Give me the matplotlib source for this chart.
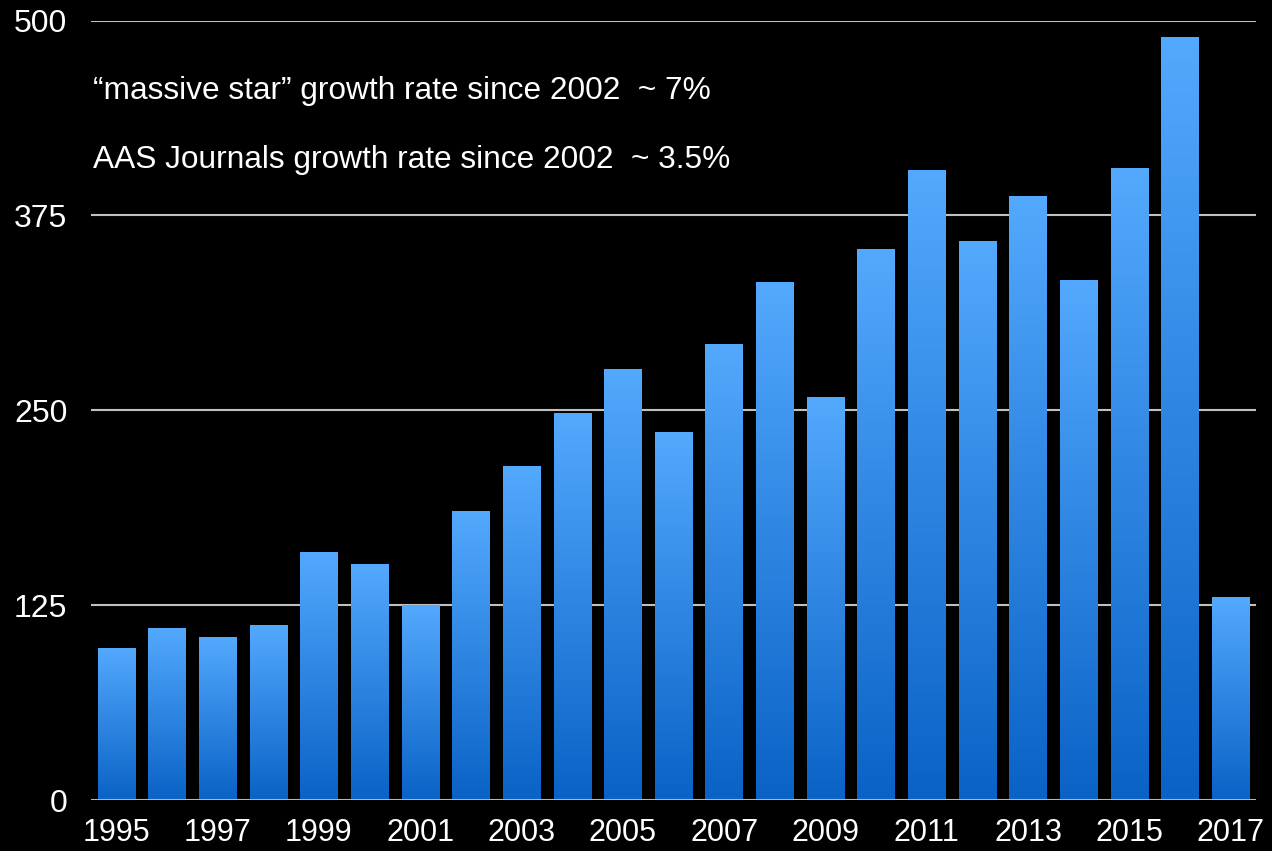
import numpy as np
import matplotlib.pyplot as plt
from matplotlib.colors import LinearSegmentedColormap

years = list(range(1995, 2018))
papers = [97, 110, 104, 112, 159, 151, 125, 185, 214, 248, 276, 236,
          292, 332, 258, 353, 404, 358, 387, 333, 405, 489, 130]
yticks = [0, 125, 250, 375, 500]
xlabels = [str(y) if (y - 1995) % 2 == 0 else "" for y in years]
notes = ["\u201cmassive star\u201d growth rate since 2002  ~ 7%",
         "AAS Journals growth rate since 2002  ~ 3.5%"]

plt.rcParams['font.family'] = ['Liberation Sans', 'DejaVu Sans']

fig = plt.figure(figsize=(12.72, 8.51), dpi=100, facecolor='black')
ax = fig.add_axes([0.0715, 0.0599, 0.9159, 0.9160])
ax.set_facecolor('black')

# each bar gets its own top-to-bottom blue gradient
cmap = LinearSegmentedColormap.from_list('bluebar', ['#0a62c6', '#53a9fd'])
grad = np.linspace(0, 1, 256).reshape(-1, 1)
bars = ax.bar(years, papers, width=0.735, color='none', zorder=3)
for b in bars:
    x0 = b.get_x()
    ax.imshow(grad, extent=[x0, x0 + b.get_width(), 0, b.get_height()],
              origin='lower', aspect='auto', cmap=cmap, zorder=3)

ax.set_xlim(1994.5, 2017.5)
ax.set_ylim(0, 500)

for y in yticks[1:]:
    ax.axhline(y, color='#c0c0c0', lw=1.5, zorder=1)
ax.axhline(0, color='#b4b4b4', lw=1.5, zorder=4)

for s in ax.spines.values():
    s.set_visible(False)

ax.set_yticks(yticks)
ax.set_xticks(years)
ax.set_xticklabels(xlabels)
ax.tick_params(axis='both', length=0, colors='white')
ax.tick_params(axis='y', pad=17, labelsize=23)
ax.tick_params(axis='x', pad=13, labelsize=22)

ax.text(0.0015, 455, notes[0], color='white', fontsize=22.8, va='center',
        transform=ax.get_yaxis_transform())
ax.text(0.0015, 410.5, notes[1], color='white', fontsize=22.8, va='center',
        transform=ax.get_yaxis_transform())

fig.savefig('out.png', dpi=100, facecolor='black')
